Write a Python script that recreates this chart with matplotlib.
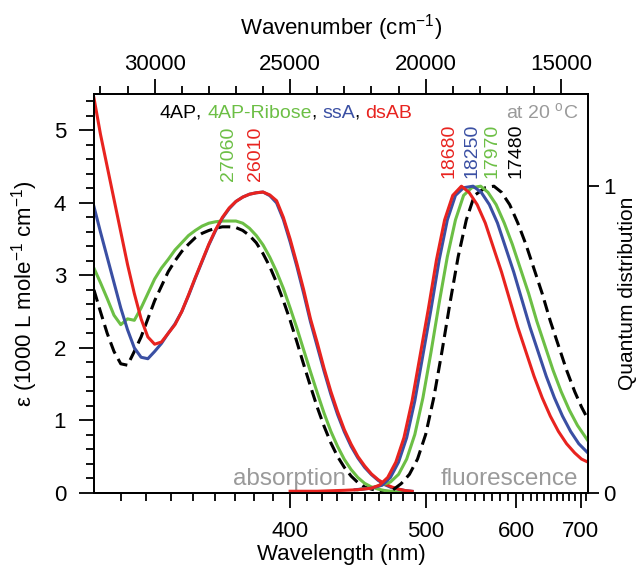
import numpy as np
import matplotlib
matplotlib.use("Agg")
import matplotlib.pyplot as plt
from matplotlib.ticker import MultipleLocator, FixedLocator

plt.rcParams['font.family'] = ['Liberation Sans', 'DejaVu Sans']
plt.rcParams['mathtext.fontset'] = 'custom'
plt.rcParams['mathtext.rm'] = 'Liberation Sans'
plt.rcParams['mathtext.it'] = 'Liberation Sans'

RED = '#e8231f'
BLUE = '#3a4fa3'
GREEN = '#6cbf45'
GRAY = '#9a9a9a'

# absorption spectra, x in cm-1, eps in 1000 L/(mol cm)
abs_nu = [32240, 32000, 31750, 31500, 31250, 31000, 30750, 30500, 30250, 30000,
          29750, 29500, 29250, 29000, 28750, 28500, 28250, 28000, 27750, 27500,
          27250, 27000, 26750, 26500, 26250, 26000, 25750, 25500, 25250, 25000,
          24750, 24500, 24250, 24000, 23750, 23500, 23250, 23000, 22750, 22500,
          22250, 22000, 21750, 21500, 21250, 21000, 20750, 20500]
eps_dsAB = [5.45, 4.95, 4.50, 4.05, 3.60, 3.15, 2.75, 2.40, 2.15, 2.05,
            2.08, 2.20, 2.32, 2.50, 2.73, 2.97, 3.20, 3.43, 3.63, 3.80,
            3.93, 4.02, 4.08, 4.12, 4.14, 4.15, 4.11, 4.03, 3.80, 3.50,
            3.16, 2.80, 2.40, 2.07, 1.72, 1.40, 1.12, 0.87, 0.67, 0.50,
            0.37, 0.26, 0.18, 0.12, 0.08, 0.05, 0.03, 0.02]
eps_ssA = [3.95, 3.60, 3.25, 2.90, 2.55, 2.25, 2.00, 1.87, 1.85, 1.95,
           2.06, 2.20, 2.33, 2.50, 2.72, 2.96, 3.19, 3.42, 3.62, 3.79,
           3.92, 4.02, 4.08, 4.12, 4.14, 4.15, 4.10, 4.00, 3.77, 3.46,
           3.12, 2.75, 2.36, 2.02, 1.68, 1.36, 1.08, 0.84, 0.64, 0.48,
           0.35, 0.25, 0.17, 0.11, 0.07, 0.05, 0.03, 0.02]
eps_ribose = [3.10, 2.90, 2.68, 2.45, 2.32, 2.40, 2.38, 2.55, 2.75, 2.95,
              3.10, 3.22, 3.35, 3.45, 3.55, 3.62, 3.68, 3.72, 3.74, 3.75,
              3.75, 3.75, 3.72, 3.65, 3.55, 3.42, 3.25, 3.05, 2.82, 2.55,
              2.27, 1.97, 1.67, 1.38, 1.10, 0.85, 0.64, 0.46, 0.32, 0.21,
              0.13, 0.08, 0.05, 0.03, 0.02, 0.01, 0.01, 0.0]
eps_4AP = [2.80, 2.50, 2.20, 1.95, 1.78, 1.76, 1.95, 2.15, 2.40, 2.65,
           2.85, 3.05, 3.20, 3.33, 3.43, 3.52, 3.58, 3.62, 3.65, 3.67,
           3.67, 3.66, 3.62, 3.55, 3.45, 3.30, 3.12, 2.90, 2.65, 2.38,
           2.08, 1.77, 1.47, 1.18, 0.92, 0.69, 0.50, 0.35, 0.23, 0.14,
           0.08, 0.05, 0.03, 0.02, 0.01, 0.01, 0.0, 0.0]

# normalised fluorescence
fl_nu_dsAB = [25000, 24000, 23000, 22500, 22000, 21700, 21400, 21100, 20800, 20500,
              20200, 19900, 19600, 19300, 19000, 18680, 18400, 18100, 17800, 17500,
              17200, 16900, 16600, 16300, 16000, 15700, 15400, 15100, 14800, 14500,
              14250, 14014]
fl_dsAB = [0.005, 0.005, 0.008, 0.01, 0.015, 0.025, 0.05, 0.10, 0.18, 0.30,
           0.45, 0.60, 0.76, 0.89, 0.97, 1.0, 0.98, 0.94, 0.88, 0.80,
           0.72, 0.63, 0.54, 0.46, 0.38, 0.31, 0.25, 0.20, 0.16, 0.13,
           0.11, 0.10]
fl_nu_ssA = [22600, 22000, 21600, 21300, 21000, 20700, 20400, 20100, 19800, 19500,
             19200, 18900, 18600, 18250, 17950, 17650, 17350, 17050, 16750, 16450,
             16150, 15850, 15550, 15250, 14950, 14650, 14350, 14014]
fl_ssA = [0.01, 0.015, 0.025, 0.05, 0.10, 0.18, 0.30, 0.45, 0.60, 0.76,
          0.89, 0.97, 0.995, 1.0, 0.98, 0.94, 0.88, 0.80, 0.72, 0.63,
          0.54, 0.46, 0.38, 0.31, 0.25, 0.20, 0.16, 0.13]
fl_nu_ribose = [22500, 21800, 21300, 21000, 20700, 20400, 20100, 19800, 19500, 19200,
                18900, 18600, 18300, 17970, 17700, 17400, 17100, 16800, 16500, 16200,
                15900, 15600, 15300, 15000, 14700, 14400, 14014]
fl_ribose = [0.01, 0.02, 0.035, 0.06, 0.11, 0.19, 0.31, 0.46, 0.62, 0.77,
             0.89, 0.97, 0.995, 1.0, 0.98, 0.94, 0.88, 0.81, 0.73, 0.65,
             0.56, 0.48, 0.40, 0.33, 0.27, 0.22, 0.17]
fl_nu_4AP = [21200, 20900, 20600, 20300, 20000, 19700, 19400, 19100, 18800, 18500,
             18200, 17800, 17480, 17200, 16900, 16600, 16300, 16000, 15700, 15400,
             15100, 14800, 14500, 14250, 14014]
fl_4AP = [0.01, 0.03, 0.06, 0.11, 0.19, 0.31, 0.46, 0.62, 0.77, 0.89,
          0.97, 0.995, 1.0, 0.98, 0.94, 0.88, 0.81, 0.73, 0.65, 0.56,
          0.48, 0.40, 0.33, 0.28, 0.24]

# peak labels (cm-1)
abs_peaks = ['27060', '26010']
abs_peak_colors = [GREEN, RED]
fl_peaks = ['18680', '18250', '17970', '17480']
fl_peak_colors = [RED, BLUE, GREEN, 'black']


def nu2nm(v):
    v = np.asarray(v, dtype=float)
    with np.errstate(divide='ignore'):
        return 1e7 / v


fig = plt.figure(figsize=(6.39, 5.71), dpi=100)
ax = fig.add_axes([0.147, 0.137, 0.773, 0.698])
ax2 = ax.twinx()

lw = 2.2
ax.plot(abs_nu, eps_4AP, color='black', lw=lw, ls=(0, (4, 2)))
ax.plot(abs_nu, eps_ribose, color=GREEN, lw=lw)
ax.plot(abs_nu, eps_ssA, color=BLUE, lw=lw)
ax.plot(abs_nu, eps_dsAB, color=RED, lw=lw)

ax2.plot(fl_nu_4AP, fl_4AP, color='black', lw=lw, ls=(0, (4, 2)))
ax2.plot(fl_nu_ribose, fl_ribose, color=GREEN, lw=lw)
ax2.plot(fl_nu_ssA, fl_ssA, color=BLUE, lw=lw)
ax2.plot(fl_nu_dsAB, fl_dsAB, color=RED, lw=lw)

ax.set_xlim(32240, 14014)
ax.set_ylim(0, 5.5)
ax2.set_ylim(0, 1.3)

fs = 16
# wavenumber scale on top
ax.xaxis.set_ticks_position('top')
ax.xaxis.set_label_position('top')
ax.set_xticks([30000, 25000, 20000, 15000])
ax.xaxis.set_minor_locator(MultipleLocator(1000))
ax.set_xlabel('Wavenumber (cm$^{-1}$)', fontsize=fs, labelpad=14)

# wavelength scale on the bottom
sec = ax.secondary_xaxis('bottom', functions=(nu2nm, nu2nm))
sec.set_xticks([400, 500, 600, 700])
sec.xaxis.set_minor_locator(FixedLocator(np.arange(320, 720, 10)))
sec.set_xlabel('Wavelength (nm)', fontsize=fs, labelpad=2)

ax.set_yticks([0, 1, 2, 3, 4, 5])
ax.yaxis.set_minor_locator(MultipleLocator(0.2))
ax.set_ylabel('ε (1000 L mole$^{-1}$ cm$^{-1}$)', fontsize=fs, labelpad=10)
ax2.set_yticks([0, 1])
ax2.set_ylabel('Quantum distribution', fontsize=15, labelpad=2)

for a in (ax, ax2, sec):
    a.tick_params(which='major', direction='out', length=11, width=1.3,
                  labelsize=fs, pad=5)
    a.tick_params(which='minor', direction='out', length=6, width=1.3)
ax.tick_params(axis='y', which='major', pad=9)
ax.tick_params(axis='x', which='major', pad=3)
ax2.tick_params(which='major', length=8, pad=3)
sec.tick_params(which='major', pad=9)
for a in (ax, ax2):
    for s in a.spines.values():
        s.set_linewidth(1.3)
sec.spines['bottom'].set_linewidth(1.3)

# compound names in their line colours
tfs = 14
t = ax.text(29825, 5.12, '4AP', color='black', fontsize=tfs, va='bottom')
for s, c in [(', ', 'black'), ('4AP-Ribose', GREEN), (', ', 'black'), ('ssA', BLUE),
             (', ', 'black'), ('dsAB', RED)]:
    t = ax.annotate(s, xy=(1, 0), xycoords=t, color=c, fontsize=tfs, va='bottom')
ax.text(14380, 5.12, 'at 20 $^{o}$C', color=GRAY, fontsize=tfs, ha='right', va='bottom')

for lab, c, x in zip(abs_peaks, abs_peak_colors, [27263, 26275]):
    ax.text(x, 4.3, lab, color=c, fontsize=tfs, rotation=90, ha='center', va='bottom')
for lab, c, x in zip(fl_peaks, fl_peak_colors, [19138, 18296, 17564, 16649]):
    ax.text(x, 4.35, lab, color=c, fontsize=tfs, rotation=90, ha='center', va='bottom')

ax.text(27117, 0.11, 'absorption', color=GRAY, fontsize=17.5, va='baseline')
ax.text(19431, 0.11, 'fluorescence', color=GRAY, fontsize=17.5, va='baseline')

fig.savefig('out.png', dpi=100)
